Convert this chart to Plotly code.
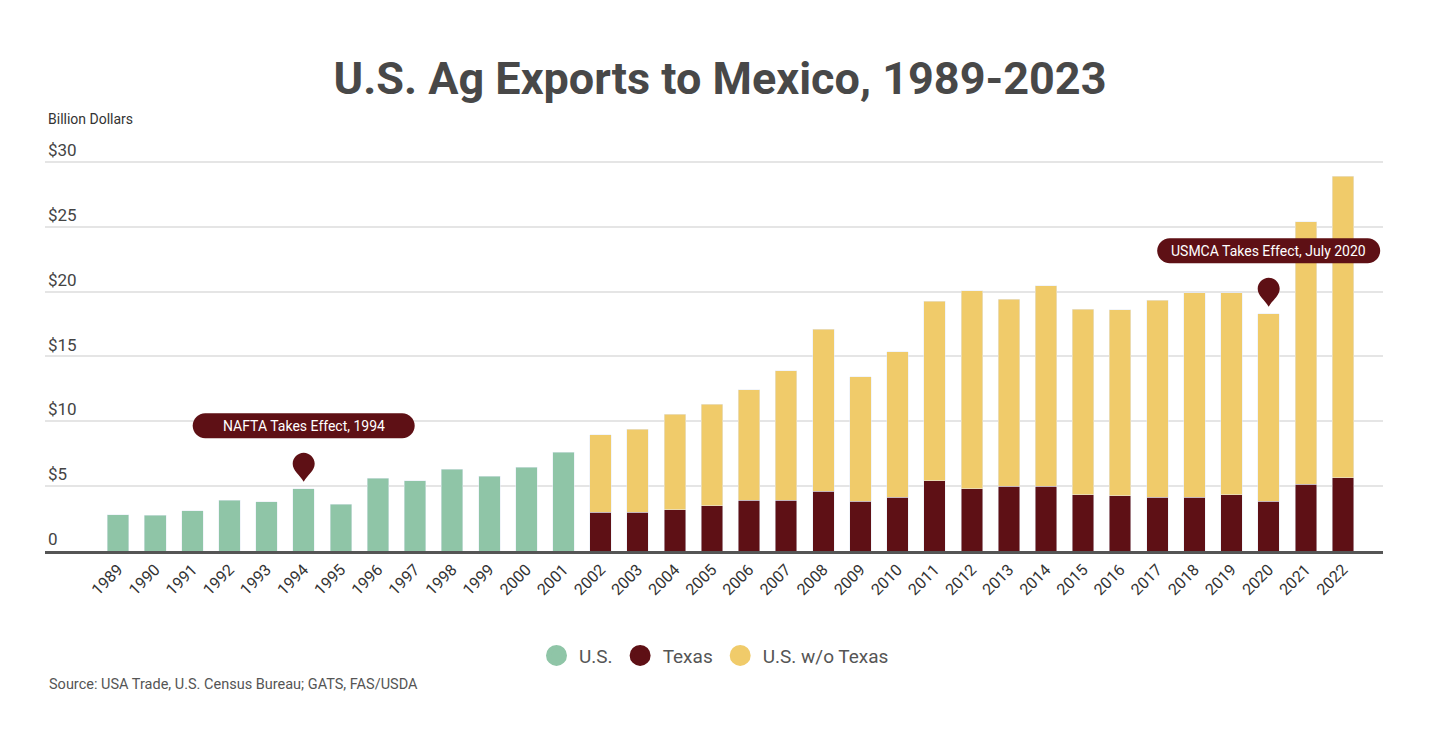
import plotly.graph_objects as go

# %%
# Data (billion dollars)
us_years = list(range(1989, 2002))
us_total = [2.8, 2.75, 3.1, 3.9, 3.8, 4.8, 3.6, 5.6, 5.4, 6.3, 5.75, 6.45, 7.6]

split_years = list(range(2002, 2023))
texas = [3.0, 3.0, 3.2, 3.5, 3.9, 3.9, 4.6, 3.85, 4.15, 5.4, 4.8,
         5.0, 5.0, 4.35, 4.25, 4.15, 4.15, 4.35, 3.85, 5.15, 5.65]
us_wo_texas = [5.95, 6.4, 7.35, 7.8, 8.55, 10.0, 12.5, 9.6, 11.2, 13.85, 15.25,
               14.4, 15.45, 14.3, 14.35, 15.2, 15.75, 15.55, 14.45, 20.25, 23.25]

y_tickvals = [0, 5, 10, 15, 20, 25, 30]
y_ticktext = ['0', '$5', '$10', '$15', '$20', '$25', '$30']

events = [
    {'year': 1994, 'value': us_total[us_years.index(1994)],
     'label': 'NAFTA Takes Effect, 1994', 'width': 222},
    {'year': 2020, 'value': texas[split_years.index(2020)] + us_wo_texas[split_years.index(2020)],
     'label': 'USMCA Takes Effect, July 2020', 'width': 223},
]

GREEN = '#8fc5a7'
MAROON = '#5e1015'
GOLD = '#f0cb6a'

# %%
fig = go.Figure()

fig.add_trace(go.Bar(x=us_years, y=us_total, name='U.S.', marker_color=GREEN,
                     width=0.58, showlegend=False))
fig.add_trace(go.Bar(x=split_years, y=texas, name='Texas', marker_color=MAROON,
                     width=0.58, showlegend=False))
fig.add_trace(go.Bar(x=split_years, y=us_wo_texas, name='U.S. w/o Texas',
                     marker_color=GOLD, width=0.58, showlegend=False))

# legend entries drawn as round dots
for name, color in [('U.S.', GREEN), ('Texas', MAROON), ('U.S. w/o Texas', GOLD)]:
    fig.add_trace(go.Scatter(x=[None], y=[None], mode='markers', name=name,
                             marker=dict(color=color, size=16, symbol='circle',
                                         line=dict(color=color, width=5))))


def pill_path(w, h, dy):
    # rounded-end box centred dy px above the anchor
    r = h / 2
    k = 0.5523 * r
    x0, x1 = -w / 2 + r, w / 2 - r
    yc = dy
    return (f'M {x0},{yc - r} L {x1},{yc - r} '
            f'C {x1 + k},{yc - r} {x1 + r},{yc - k} {x1 + r},{yc} '
            f'C {x1 + r},{yc + k} {x1 + k},{yc + r} {x1},{yc + r} '
            f'L {x0},{yc + r} '
            f'C {x0 - k},{yc + r} {x0 - r},{yc + k} {x0 - r},{yc} '
            f'C {x0 - r},{yc - k} {x0 - k},{yc - r} {x0},{yc - r} Z')


def pin_path(gap):
    # map-pin with its tip gap px above the anchor
    t = gap
    return (f'M 0,{t} C -4,{t + 7} -11,{t + 11} -11,{t + 18} '
            f'C -11,{t + 24} -6,{t + 29} 0,{t + 29} '
            f'C 6,{t + 29} 11,{t + 24} 11,{t + 18} '
            f'C 11,{t + 11} 4,{t + 7} 0,{t} Z')


for ev in events:
    fig.add_shape(type='path', xref='x', yref='y', xsizemode='pixel', ysizemode='pixel',
                  xanchor=ev['year'], yanchor=ev['value'],
                  path=pill_path(ev['width'], 25, 63),
                  fillcolor=MAROON, line_width=0, layer='above')
    fig.add_shape(type='path', xref='x', yref='y', xsizemode='pixel', ysizemode='pixel',
                  xanchor=ev['year'], yanchor=ev['value'],
                  path=pin_path(7),
                  fillcolor=MAROON, line_width=0, layer='above')
    fig.add_annotation(x=ev['year'], y=ev['value'], xref='x', yref='y',
                       text=ev['label'], showarrow=False, yshift=63,
                       font=dict(family='Roboto', size=14, color='white'))

fig.add_annotation(text='Billion Dollars', xref='paper', yref='paper', x=0, y=1.098,
                   xanchor='left', yanchor='middle', xshift=1, showarrow=False,
                   font=dict(family='Roboto', size=14, color='#333333'))
fig.add_annotation(text='Source: USA Trade, U.S. Census Bureau; GATS, FAS/USDA',
                   xref='paper', yref='paper', x=0, y=-0.339, xanchor='left',
                   yanchor='middle', xshift=2, showarrow=False,
                   font=dict(family='Roboto', size=14.5, color='#555555'))

fig.update_layout(
    barmode='stack',
    width=1440, height=738,
    margin=dict(l=45, r=57, t=158, b=187),
    paper_bgcolor='white', plot_bgcolor='white',
    font=dict(family='Roboto', color='#444444'),
    title=dict(text='<b>U.S. Ag Exports to Mexico, 1989-2023</b>', x=0.5, xanchor='center',
               y=0.894, yanchor='middle', font=dict(family='Roboto', size=45, color='#484848')),
    legend=dict(orientation='h', x=0.5, xanchor='center', y=-0.266, yanchor='middle',
                traceorder='normal', itemwidth=35,
                font=dict(family='Roboto', size=19, color='#555555'), itemsizing='trace'),
)

fig.update_xaxes(range=[1989 - 1.97, 2022 + 1.08], tickmode='array',
                 tickvals=us_years + split_years, tickangle=-45,
                 tickfont=dict(family='Roboto', size=16, color='#333333'),
                 showline=True, linecolor='#555555', linewidth=3, showgrid=False,
                 ticks='')
fig.update_yaxes(range=[0, 30.3], tickmode='array', tickvals=y_tickvals, ticktext=y_ticktext,
                 ticklabelposition='inside top', ticklabeloverflow='allow',
                 tickfont=dict(family='Roboto', size=17, color='#444444'),
                 gridcolor='#e5e5e5', gridwidth=1.5, zeroline=False, showline=False)

fig.write_html('out.html', config={'displayModeBar': False},
               post_script="document.body.style.margin='0';")
